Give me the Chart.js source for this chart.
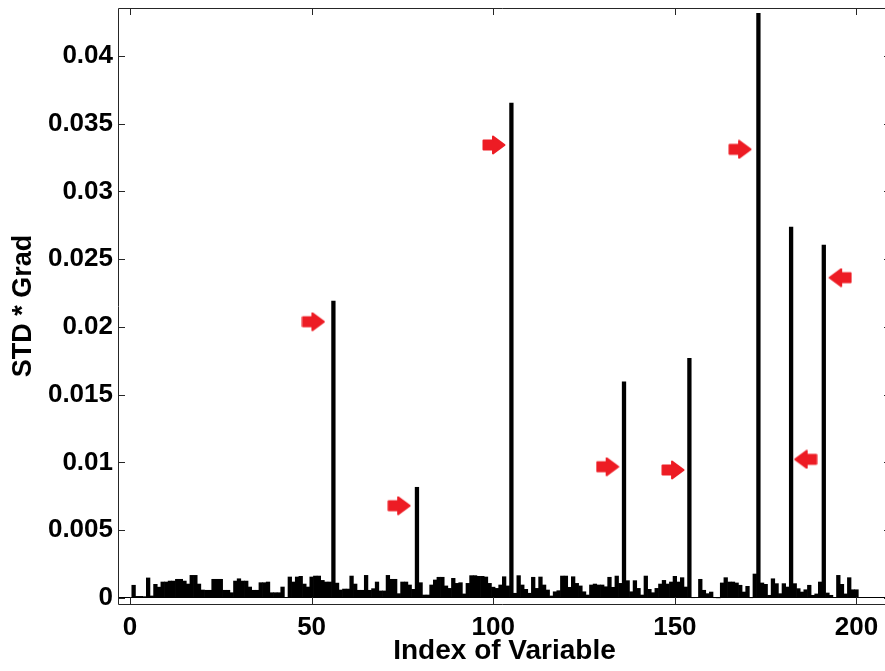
<!DOCTYPE html>
<html>
<head>
<meta charset="utf-8">
<script src="https://cdn.jsdelivr.net/npm/chart.js@4/dist/chart.umd.min.js"></script>
<style>
html,body{margin:0;padding:0;background:#fff;}
#wrap{width:885px;height:671px;position:relative;}
</style>
</head>
<body>
<div id="wrap"><canvas id="c" width="885" height="671"></canvas></div>
<script>
// ---- data ----
const values = [
0.00094,0.00012,0.00012,0.00010,0.00148,0.00015,0.00101,0.00080,0.00118,0.00118,
0.00125,0.00125,0.00138,0.00138,0.00125,0.00103,0.00167,0.00167,0.00103,0.00059,
0.00057,0.00057,0.00138,0.00138,0.00138,0.00057,0.00057,0.00039,0.00125,0.00142,
0.00125,0.00125,0.00081,0.00057,0.00057,0.00113,0.00113,0.00118,0.00039,0.00039,
0.00039,0.00081,0.00003,0.00155,0.00118,0.00155,0.00160,0.00103,0.00081,0.00155,
0.00162,0.00162,0.00130,0.00118,0.00118,0.02192,0.00110,0.00059,0.00066,0.00066,
0.00162,0.00103,0.00057,0.00057,0.00167,0.00057,0.00069,0.00118,0.00052,0.00052,
0.00167,0.00138,0.00138,0.00032,0.00118,0.00118,0.00096,0.00064,0.00817,0.00113,
0.00022,0.00022,0.00096,0.00133,0.00153,0.00153,0.00089,0.00071,0.00145,0.00108,
0.00113,0.00030,0.00108,0.00165,0.00165,0.00160,0.00160,0.00155,0.00108,0.00080,
0.00071,0.00096,0.00157,0.00089,0.03653,0.00035,0.00165,0.00096,0.00064,0.00035,
0.00153,0.00071,0.00155,0.00096,0.00059,0.00015,0.00046,0.00054,0.00162,0.00162,
0.00079,0.00157,0.00108,0.00089,0.00046,0.00022,0.00096,0.00103,0.00096,0.00096,
0.00083,0.00153,0.00079,0.00162,0.00108,0.01596,0.00128,0.00046,0.00128,0.00071,
0.00022,0.00162,0.00064,0.00039,0.00071,0.00103,0.00130,0.00103,0.00118,0.00160,
0.00118,0.00150,0.00081,0.01769,0.00002,0.00003,0.00138,0.00057,0.00032,0.00044,
0.00002,0.00001,0.00111,0.00150,0.00118,0.00118,0.00111,0.00094,0.00044,0.00086,
0.00002,0.00177,0.04315,0.00111,0.00101,0.00020,0.00142,0.00106,0.00032,0.00106,
0.00081,0.02738,0.00106,0.00069,0.00044,0.00061,0.00094,0.00020,0.00030,0.00118,
0.02605,0.00037,0.00020,0.00004,0.00167,0.00101,0.00030,0.00150,0.00061,0.00061
];
const indices = values.map((v, i) => i + 1);

const arrowRightX = [50.5, 74.1, 100.2, 131.5, 149.5, 167.95];
const arrowRightY = [0.02039, 0.00681, 0.03343, 0.00969, 0.00945, 0.03311];
const arrowLeftX  = [186.0, 195.5];
const arrowLeftY  = [0.01023, 0.02364];

const xTicks = [0, 50, 100, 150, 200];
const yTicks = [0, 0.005, 0.01, 0.015, 0.02, 0.025, 0.03, 0.035, 0.04];
const xTitle = 'Index of Variable';
const yTitle = 'STD * Grad';

// ---- arrow images ----
function makeArrow(dir) {
  const cv = document.createElement('canvas');
  cv.width = 24; cv.height = 20;
  const g = cv.getContext('2d');
  g.fillStyle = '#ED1C24';
  g.strokeStyle = '#ED1C24';
  g.lineJoin = 'round';
  g.lineWidth = 2;
  if (dir < 0) { g.translate(24, 0); g.scale(-1, 1); }
  g.beginPath();
  g.moveTo(1.5, 5.5);
  g.lineTo(11, 5.5);
  g.lineTo(11, 1.5);
  g.lineTo(22.5, 10);
  g.lineTo(11, 18.5);
  g.lineTo(11, 14.5);
  g.lineTo(1.5, 14.5);
  g.closePath();
  g.fill();
  g.stroke();
  return cv;
}
const arrowR = makeArrow(1), arrowL = makeArrow(-1);

const FONT = "'Liberation Sans', Arial, Helvetica, sans-serif";

// Fix plot area to match the reference frame
const AREA = {left: 118, top: 8, right: 891, bottom: 604};
const areaPlugin = {
  id: 'area',
  afterLayout(chart) {
    const a = chart.chartArea;
    const {x, y} = chart.scales;
    a.left = AREA.left; a.right = AREA.right; a.top = AREA.top; a.bottom = AREA.bottom;
    a.width = a.right - a.left; a.height = a.bottom - a.top;
    x.left = a.left; x.right = a.right; x.width = a.width;
    x.top = a.bottom; x.bottom = chart.height; x.height = x.bottom - x.top;
    y.top = a.top; y.bottom = a.bottom; y.height = a.height;
    y.left = 0; y.right = a.left; y.width = a.left;
    x.configure(); y.configure();
  }
};

const boxPlugin = {
  id: 'box',
  afterDraw(chart) {
    const {ctx, chartArea: a, scales: {x, y}} = chart;
    ctx.save();
    ctx.strokeStyle = '#262626';
    ctx.lineWidth = 1;
    ctx.beginPath();
    ctx.rect(Math.round(a.left) + 0.5, Math.round(a.top) + 0.5, Math.round(a.right - a.left), Math.round(a.bottom - a.top));
    const L = 7;
    xTicks.forEach(v => {
      const px = Math.round(x.getPixelForValue(v)) + 0.5;
      ctx.moveTo(px, a.bottom); ctx.lineTo(px, a.bottom - L);
      ctx.moveTo(px, a.top); ctx.lineTo(px, a.top + L);
    });
    yTicks.forEach(v => {
      const py = Math.round(y.getPixelForValue(v)) + 0.5;
      ctx.moveTo(a.left, py); ctx.lineTo(a.left + L, py);
      ctx.moveTo(a.right, py); ctx.lineTo(a.right - L, py);
    });
    ctx.stroke();
    ctx.restore();
  }
};

new Chart(document.getElementById('c'), {
  type: 'bar',
  data: {
    datasets: [
      {
        type: 'scatter',
        data: arrowRightX.map((v, i) => ({x: v, y: arrowRightY[i]})),
        pointStyle: arrowR,
        order: 0
      },
      {
        type: 'scatter',
        data: arrowLeftX.map((v, i) => ({x: v, y: arrowLeftY[i]})),
        pointStyle: arrowL,
        order: 0
      },
      {
        type: 'bar',
        data: indices.map((v, i) => ({x: v, y: values[i]})),
        backgroundColor: '#000',
        borderWidth: 0,
        barPercentage: 1,
        categoryPercentage: 1,
        order: 1
      }
    ]
  },
  options: {
    responsive: false,
    animation: false,
    events: [],
    layout: {padding: 0},
    plugins: {legend: {display: false}, tooltip: {enabled: false}},
    scales: {
      x: {
        type: 'linear',
        offset: false,
        min: -3.3,
        max: 209.5,
        afterBuildTicks: s => { s.ticks = xTicks.map(v => ({value: v})); },
        grid: {display: false, drawTicks: false},
        border: {display: false},
        ticks: {
          color: '#000',
          padding: 8,
          maxRotation: 0,
          autoSkip: false,
          font: {family: FONT, size: 26, weight: 'bold'},
          callback: v => String(v)
        },
        title: {
          display: true,
          text: xTitle,
          color: '#000',
          padding: {top: 3, bottom: 3},
          font: {family: FONT, size: 28, weight: 'bold'}
        }
      },
      y: {
        type: 'linear',
        min: -0.000443,
        max: 0.04354,
        afterBuildTicks: s => { s.ticks = yTicks.map(v => ({value: v})); },
        grid: {
          drawTicks: false,
          color: c => (c.tick && c.tick.value === 0) ? '#000' : 'rgba(0,0,0,0)',
          lineWidth: 1
        },
        border: {display: false},
        ticks: {
          color: '#000',
          padding: 5,
          autoSkip: false,
          font: {family: FONT, size: 26, weight: 'bold'},
          callback: v => String(parseFloat(Number(v).toFixed(3)))
        },
        title: {
          display: true,
          text: yTitle,
          color: '#000',
          padding: {top: 7, bottom: 7},
          font: {family: FONT, size: 27, weight: 'bold'}
        }
      }
    }
  },
  plugins: [areaPlugin, boxPlugin]
});
</script>
</body>
</html>
